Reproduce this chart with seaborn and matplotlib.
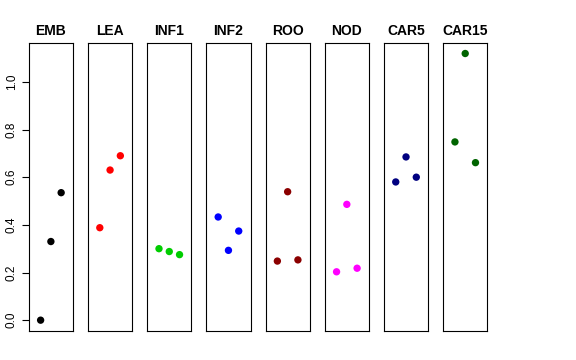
import pandas as pd
import matplotlib
matplotlib.use("Agg")
import matplotlib.pyplot as plt
import seaborn as sns

stages = ["EMB", "LEA", "INF1", "INF2", "ROO", "NOD", "CAR5", "CAR15"]
colors = ["black", "red", "#00CD00", "blue", "#8B0000", "magenta", "#000080", "#006400"]
rep = [1, 2, 3]

emb = [0.0, 0.33, 0.535]
lea = [0.388, 0.63, 0.69]
inf1 = [0.300, 0.288, 0.275]
inf2 = [0.433, 0.293, 0.374]
roo = [0.248, 0.539, 0.253]
nod = [0.203, 0.486, 0.218]
car5 = [0.580, 0.685, 0.600]
car15 = [0.748, 1.119, 0.661]

values = [emb, lea, inf1, inf2, roo, nod, car5, car15]

rows = []
for st, vals in zip(stages, values):
    for r, v in zip(rep, vals):
        rows.append({"stage": st, "rep": r, "value": v})
df = pd.DataFrame(rows)

sns.set_style("white")
plt.rcParams["font.family"] = ["Liberation Sans", "DejaVu Sans"]
plt.rcParams["text.color"] = "black"
plt.rcParams["ytick.color"] = "black"
plt.rcParams["ytick.labelcolor"] = "black"

fig, axes = plt.subplots(1, len(stages), figsize=(5.76, 3.6), dpi=100, sharey=True)
fig.subplots_adjust(left=0.050, right=0.846, bottom=0.081, top=0.881, wspace=0.34)

ymin, ymax = df["value"].min(), df["value"].max()
pad = (ymax - ymin) * 0.04

for ax, st, col in zip(axes, stages, colors):
    sub = df[df["stage"] == st]
    sns.scatterplot(data=sub, x="rep", y="value", color=col, s=28,
                    edgecolor="none", ax=ax, legend=False)
    ax.set_xlim(-0.15, 4.15)
    ax.set_ylim(ymin - pad, ymax + pad)
    ax.set_title(st, fontsize=10, fontweight="bold", pad=6, color="black")
    ax.set_xlabel("")
    ax.set_ylabel("")
    ax.set_xticks([])
    for sp in ax.spines.values():
        sp.set_visible(True)
        sp.set_color("black")
        sp.set_linewidth(0.8)
    if ax is not axes[0]:
        ax.tick_params(left=False, labelleft=False)

axes[0].set_yticks([0.0, 0.2, 0.4, 0.6, 0.8, 1.0])
axes[0].set_yticklabels(["0.0", "0.2", "0.4", "0.6", "0.8", "1.0"], rotation=90, va="center")
axes[0].tick_params(axis="y", left=True, length=5, width=0.8, labelsize=8.5, pad=3,
                    color="black", labelcolor="black")

fig.savefig("out.png", dpi=100)
